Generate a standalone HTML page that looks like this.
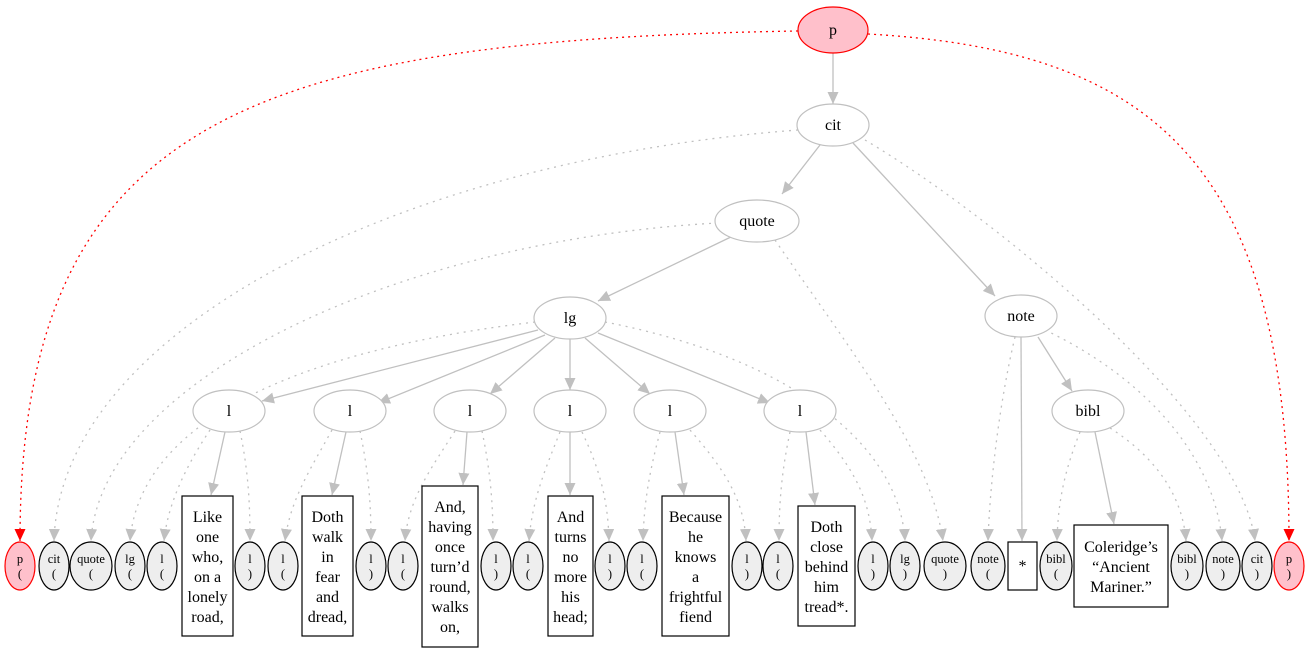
<!DOCTYPE html>
<html><head><meta charset="utf-8"><style>body{margin:0;background:#fff}svg{display:block}</style></head>
<body>
<svg width="1309" height="653" viewBox="0 0 1309 653" xmlns="http://www.w3.org/2000/svg" font-family="Liberation Serif, serif">
<defs>
<marker id="g" markerUnits="userSpaceOnUse" markerWidth="13" markerHeight="11" refX="12" refY="5.5" orient="auto"><path d="M0,0 L12,5.5 L0,11 Z" fill="#c0c0c0"/></marker>
<marker id="r" markerUnits="userSpaceOnUse" markerWidth="13" markerHeight="11" refX="12" refY="5.5" orient="auto"><path d="M0,0 L12,5.5 L0,11 Z" fill="#ff0000"/></marker>
</defs>
<g fill="none" stroke="#c0c0c0" stroke-width="1.3" marker-end="url(#g)">
<path d="M833,52 L833,104"/>
<path d="M820,145 L782,194"/>
<path d="M853,143 L995,296"/>
<path d="M735,235 L598,301"/>
<path d="M1021,337 L1022,541"/>
<path d="M1038,337 L1072,391"/>
<path d="M1095,432 L1114,524"/>
<path d="M538,330 L262,401"/>
<path d="M545,335 L378,403"/>
<path d="M555,338 L490,394"/>
<path d="M570,339 L570,390"/>
<path d="M585,338 L650,394"/>
<path d="M598,333 L770,403"/>
<path d="M225,432 L211,495"/>
<path d="M346,432 L332,495"/>
<path d="M467,432 L463,485"/>
<path d="M570,432 L570,495"/>
<path d="M675,432 L684,495"/>
<path d="M806,432 L815,505"/>
</g>
<g fill="none" stroke="#c0c0c0" stroke-width="1.3" stroke-dasharray="2,5" marker-end="url(#g)">
<path d="M798,130 C400,160 60,330 54,541"/>
<path d="M865,140 C1000,220 1240,420 1255,541"/>
<path d="M718,223 C400,240 100,380 91,541"/>
<path d="M775,240 C850,350 930,450 943,541"/>
<path d="M535,322 C300,350 140,420 130,541"/>
<path d="M605,322 C800,360 900,450 905,541"/>
<path d="M1015,337 C1000,400 990,480 988,541"/>
<path d="M1045,330 C1150,380 1215,460 1222,541"/>
<path d="M1080,432 C1065,470 1058,500 1057,541"/>
<path d="M1110,428 C1160,460 1183,500 1186,541"/>
<path d="M210,430 C190,460 168,500 164,541"/>
<path d="M240,431 C248,470 250,500 250,541"/>
<path d="M332,430 C310,470 290,500 285,541"/>
<path d="M360,431 C368,470 371,500 371,541"/>
<path d="M455,431 C430,470 408,500 405,541"/>
<path d="M482,431 C490,470 493,500 493,541"/>
<path d="M560,432 C545,470 532,500 529,541"/>
<path d="M582,432 C600,470 608,500 609,541"/>
<path d="M660,432 C650,470 644,500 643,541"/>
<path d="M690,430 C725,470 744,500 746,541"/>
<path d="M790,432 C782,470 779,500 779,541"/>
<path d="M820,430 C855,470 870,500 872,541"/>
</g>
<g fill="none" stroke="#ff0000" stroke-width="1.3" stroke-dasharray="2,4" marker-end="url(#r)">
<path d="M798,31 C250,40 20,120 20,541"/>
<path d="M868,34 C1150,50 1289,160 1289,541"/>
</g>
<g stroke="#c0c0c0" stroke-width="1.2" fill="#fff">
<ellipse cx="833" cy="125" rx="36" ry="21"/>
<ellipse cx="757" cy="221" rx="42" ry="21"/>
<ellipse cx="570" cy="318" rx="36" ry="21"/>
<ellipse cx="1021" cy="316" rx="36" ry="21"/>
<ellipse cx="1088" cy="411" rx="36" ry="21"/>
<ellipse cx="229" cy="411" rx="36" ry="21"/>
<ellipse cx="350" cy="411" rx="36" ry="21"/>
<ellipse cx="470" cy="411" rx="36" ry="21"/>
<ellipse cx="570" cy="411" rx="36" ry="21"/>
<ellipse cx="670" cy="411" rx="36" ry="21"/>
<ellipse cx="800" cy="411" rx="36" ry="21"/>
</g>
<ellipse cx="833" cy="30" rx="35" ry="23" fill="#ffc0cb" stroke="#ff0000" stroke-width="1.2"/>
<g font-size="16" text-anchor="middle" fill="#000">
<text x="833" y="35">p</text><text x="833" y="130">cit</text><text x="757" y="226">quote</text>
<text x="570" y="323">lg</text><text x="1021" y="321">note</text><text x="1088" y="416">bibl</text>
<text x="229" y="416">l</text><text x="350" y="416">l</text><text x="470" y="416">l</text>
<text x="570" y="416">l</text><text x="670" y="416">l</text><text x="800" y="416">l</text>
</g>
<g stroke="#000" stroke-width="1.2" fill="#eeeeee">
<ellipse cx="54" cy="566" rx="15" ry="24"/><ellipse cx="91" cy="566" rx="21" ry="24"/>
<ellipse cx="130" cy="566" rx="15" ry="24"/><ellipse cx="162" cy="566" rx="15" ry="24"/>
<ellipse cx="250" cy="566" rx="15" ry="24"/><ellipse cx="283" cy="566" rx="15" ry="24"/>
<ellipse cx="371" cy="566" rx="15" ry="24"/><ellipse cx="403" cy="566" rx="15" ry="24"/>
<ellipse cx="496" cy="566" rx="15" ry="24"/><ellipse cx="528" cy="566" rx="15" ry="24"/>
<ellipse cx="610" cy="566" rx="15" ry="24"/><ellipse cx="642" cy="566" rx="15" ry="24"/>
<ellipse cx="747" cy="566" rx="15" ry="24"/><ellipse cx="778" cy="566" rx="15" ry="24"/>
<ellipse cx="873" cy="566" rx="15" ry="24"/><ellipse cx="905" cy="566" rx="15" ry="24"/>
<ellipse cx="945" cy="566" rx="21" ry="24"/><ellipse cx="988" cy="566" rx="17" ry="24"/>
<ellipse cx="1056" cy="566" rx="16" ry="24"/><ellipse cx="1187" cy="566" rx="16" ry="24"/>
<ellipse cx="1223" cy="566" rx="17" ry="24"/><ellipse cx="1257" cy="566" rx="15" ry="24"/>
</g>
<g stroke="#ff0000" stroke-width="1.2" fill="#ffc0cb">
<ellipse cx="20" cy="566" rx="15" ry="24"/><ellipse cx="1289" cy="566" rx="15" ry="24"/>
</g>
<g font-size="12.5" text-anchor="middle" fill="#000">
<text x="20" y="563">p</text><text x="20" y="578">(</text>
<text x="54" y="563">cit</text><text x="54" y="578">(</text>
<text x="91" y="563">quote</text><text x="91" y="578">(</text>
<text x="130" y="563">lg</text><text x="130" y="578">(</text>
<text x="162" y="563">l</text><text x="162" y="578">(</text>
<text x="250" y="563">l</text><text x="250" y="578">)</text>
<text x="283" y="563">l</text><text x="283" y="578">(</text>
<text x="371" y="563">l</text><text x="371" y="578">)</text>
<text x="403" y="563">l</text><text x="403" y="578">(</text>
<text x="496" y="563">l</text><text x="496" y="578">)</text>
<text x="528" y="563">l</text><text x="528" y="578">(</text>
<text x="610" y="563">l</text><text x="610" y="578">)</text>
<text x="642" y="563">l</text><text x="642" y="578">(</text>
<text x="747" y="563">l</text><text x="747" y="578">)</text>
<text x="778" y="563">l</text><text x="778" y="578">(</text>
<text x="873" y="563">l</text><text x="873" y="578">)</text>
<text x="905" y="563">lg</text><text x="905" y="578">)</text>
<text x="945" y="563">quote</text><text x="945" y="578">)</text>
<text x="988" y="563">note</text><text x="988" y="578">(</text>
<text x="1056" y="563">bibl</text><text x="1056" y="578">(</text>
<text x="1187" y="563">bibl</text><text x="1187" y="578">)</text>
<text x="1223" y="563">note</text><text x="1223" y="578">)</text>
<text x="1257" y="563">cit</text><text x="1257" y="578">)</text>
<text x="1289" y="563">p</text><text x="1289" y="578">)</text>
</g>
<g stroke="#000" stroke-width="1.2" fill="#fff">
<rect x="182" y="496" width="51" height="140"/>
<rect x="302" y="496" width="51" height="140"/>
<rect x="422" y="486" width="56" height="161"/>
<rect x="548" y="496" width="45" height="140"/>
<rect x="662" y="496" width="67" height="140"/>
<rect x="798" y="506" width="57" height="120"/>
<rect x="1008" y="542" width="29" height="48"/>
<rect x="1074" y="525" width="94" height="82"/>
</g>
<g font-size="16" text-anchor="middle" fill="#000">
<text x="207.5" y="522"><tspan x="207.5">Like</tspan><tspan x="207.5" dy="20">one</tspan><tspan x="207.5" dy="20">who,</tspan><tspan x="207.5" dy="20">on a</tspan><tspan x="207.5" dy="20">lonely</tspan><tspan x="207.5" dy="20">road,</tspan></text>
<text x="327.5" y="522"><tspan x="327.5">Doth</tspan><tspan x="327.5" dy="20">walk</tspan><tspan x="327.5" dy="20">in</tspan><tspan x="327.5" dy="20">fear</tspan><tspan x="327.5" dy="20">and</tspan><tspan x="327.5" dy="20">dread,</tspan></text>
<text x="450" y="512"><tspan x="450">And,</tspan><tspan x="450" dy="20">having</tspan><tspan x="450" dy="20">once</tspan><tspan x="450" dy="20">turn’d</tspan><tspan x="450" dy="20">round,</tspan><tspan x="450" dy="20">walks</tspan><tspan x="450" dy="20">on,</tspan></text>
<text x="570.5" y="522"><tspan x="570.5">And</tspan><tspan x="570.5" dy="20">turns</tspan><tspan x="570.5" dy="20">no</tspan><tspan x="570.5" dy="20">more</tspan><tspan x="570.5" dy="20">his</tspan><tspan x="570.5" dy="20">head;</tspan></text>
<text x="695.5" y="522"><tspan x="695.5">Because</tspan><tspan x="695.5" dy="20">he</tspan><tspan x="695.5" dy="20">knows</tspan><tspan x="695.5" dy="20">a</tspan><tspan x="695.5" dy="20">frightful</tspan><tspan x="695.5" dy="20">fiend</tspan></text>
<text x="826.5" y="532"><tspan x="826.5">Doth</tspan><tspan x="826.5" dy="20">close</tspan><tspan x="826.5" dy="20">behind</tspan><tspan x="826.5" dy="20">him</tspan><tspan x="826.5" dy="20">tread*.</tspan></text>
<text x="1022.5" y="571">*</text>
<text x="1121" y="552"><tspan x="1121">Coleridge’s</tspan><tspan x="1121" dy="20">“Ancient</tspan><tspan x="1121" dy="20">Mariner.”</tspan></text>
</g>
</svg>
</body></html>
